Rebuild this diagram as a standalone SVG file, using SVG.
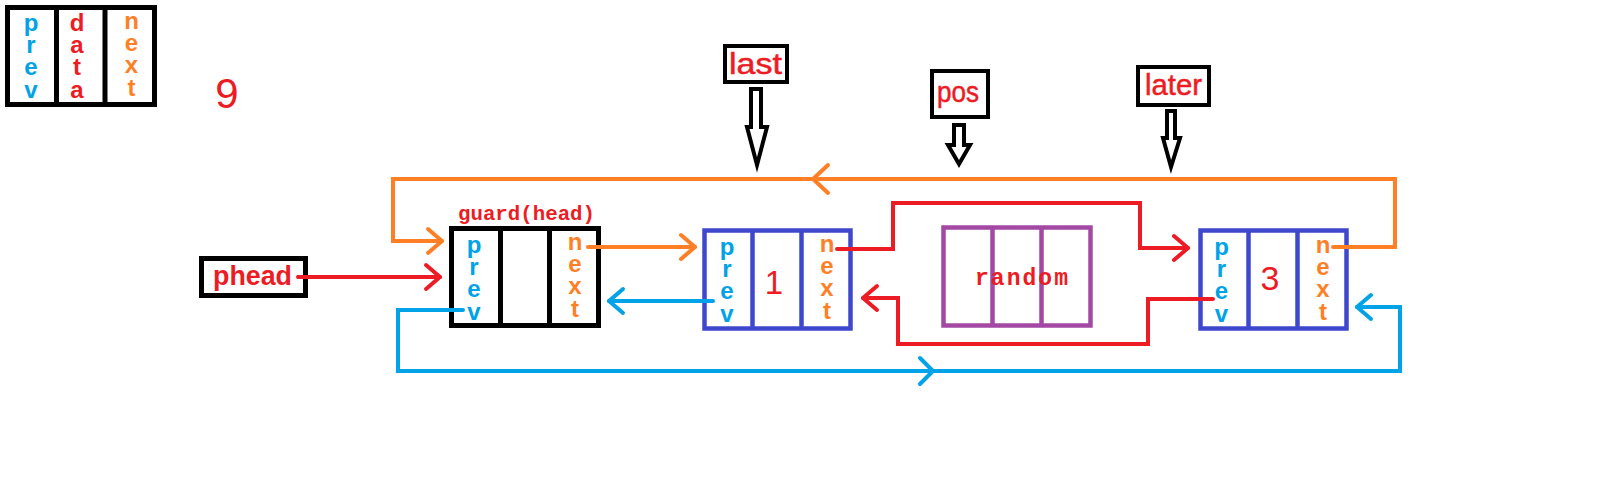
<svg xmlns="http://www.w3.org/2000/svg" width="1611" height="496" viewBox="0 0 1611 496">
<style>
  .bg{fill:#ffffff}
  .box{fill:#ffffff;stroke:#000000;stroke-width:5}
  .lbl{fill:#ffffff;stroke:#000000;stroke-width:4}
  .nb{fill:#ffffff;stroke:#3f48cc;stroke-width:4.5}
  .nbl{stroke:#3f48cc;stroke-width:4.5}
  .pb{fill:#ffffff;stroke:#a349a4;stroke-width:4.5}
  .pbl{stroke:#a349a4;stroke-width:4.5}
  .bl{stroke:#000000;stroke-width:5}
  .let{font-family:"Liberation Sans",Arial,sans-serif;font-size:24px;font-weight:bold;writing-mode:vertical-rl;text-orientation:upright;letter-spacing:-4.8px}
  .cb{fill:#00a2e8}
  .co{fill:#ff7f27}
  .cr{fill:#ed1c24}
  .ptr{font-family:"Liberation Sans",Arial,sans-serif;font-size:29px;fill:#ed1c24;stroke:#ed1c24;stroke-width:0.5}
  .mono{font-family:"Liberation Mono","DejaVu Sans Mono",monospace;font-weight:bold;fill:#ed1c24}
  .num{font-family:"Liberation Sans",Arial,sans-serif;fill:#ed1c24;text-anchor:middle}
  .hollow{fill:#ffffff;stroke:#000000;stroke-width:4;stroke-linejoin:miter}
  .ln{fill:none;stroke-width:4;stroke-linecap:round;stroke-linejoin:miter}
  .red{stroke:#ed1c24}
  .org{stroke:#ff7f27}
  .blu{stroke:#00a2e8}
</style>
<defs>
  <marker id="aR" markerUnits="userSpaceOnUse" viewBox="-20 -20 40 40" refX="0" refY="0" markerWidth="40" markerHeight="40" orient="auto">
    <path d="M-14,-12 L0,0 L-14,12" fill="none" stroke="#ed1c24" stroke-width="4" stroke-linecap="round" stroke-linejoin="round"/>
  </marker>
  <marker id="aO" markerUnits="userSpaceOnUse" viewBox="-20 -20 40 40" refX="0" refY="0" markerWidth="40" markerHeight="40" orient="auto">
    <path d="M-14,-12 L0,0 L-14,12" fill="none" stroke="#ff7f27" stroke-width="4" stroke-linecap="round" stroke-linejoin="round"/>
  </marker>
  <marker id="aB" markerUnits="userSpaceOnUse" viewBox="-20 -20 40 40" refX="0" refY="0" markerWidth="40" markerHeight="40" orient="auto">
    <path d="M-14,-12 L0,0 L-14,12" fill="none" stroke="#00a2e8" stroke-width="4" stroke-linecap="round" stroke-linejoin="round"/>
  </marker>
</defs>
<rect class="bg" x="0" y="0" width="1611" height="496"/>

<g id="legend">
  <rect class="box" x="7.5" y="7.5" width="147" height="97"/>
  <line class="bl" x1="56.5" y1="7.5" x2="56.5" y2="104.5"/>
  <line class="bl" x1="105" y1="7.5" x2="105" y2="104.5"/>
  <text class="let cb" x="31" y="9">prev</text>
  <text class="let cr" x="77" y="9">data</text>
  <text class="let co" x="131.5" y="7">next</text>
</g>

<g id="count">
  <text class="num" x="227" y="108" font-size="42">9</text>
</g>

<g id="phead">
  <rect class="box" x="201.5" y="258.5" width="104" height="37" stroke-width="5"/>
  <text x="213" y="285" font-family="Liberation Sans, Arial, sans-serif" font-size="27" font-weight="bold" fill="#ed1c24" textLength="79" lengthAdjust="spacingAndGlyphs">phead</text>
</g>

<g id="guard">
  <text class="mono" x="458" y="220" font-size="20" textLength="137" lengthAdjust="spacingAndGlyphs">guard(head)</text>
  <rect class="box" x="451.5" y="228.5" width="147" height="97"/>
  <line class="bl" x1="500.5" y1="228.5" x2="500.5" y2="325.5"/>
  <line class="bl" x1="549.5" y1="228.5" x2="549.5" y2="325.5"/>
  <text class="let cb" x="474" y="231">prev</text>
  <text class="let co" x="575" y="228">next</text>
</g>

<g id="node1">
  <rect class="nb" x="704.5" y="230.5" width="146" height="98"/>
  <line class="nbl" x1="752.5" y1="230.5" x2="752.5" y2="328.5"/>
  <line class="nbl" x1="801.5" y1="230.5" x2="801.5" y2="328.5"/>
  <text class="let cb" x="727" y="233">prev</text>
  <text class="num" x="774" y="294" font-size="33">1</text>
  <text class="let co" x="827" y="230">next</text>
</g>

<g id="random">
  <rect class="pb" x="943.5" y="227.5" width="147" height="98"/>
  <line class="pbl" x1="992.5" y1="227.5" x2="992.5" y2="325.5"/>
  <line class="pbl" x1="1041.5" y1="227.5" x2="1041.5" y2="325.5"/>
  <text class="mono" x="975" y="285" font-size="23" textLength="93" lengthAdjust="spacing">random</text>
</g>

<g id="node3">
  <rect class="nb" x="1200.5" y="230.5" width="146" height="98"/>
  <line class="nbl" x1="1248.5" y1="230.5" x2="1248.5" y2="328.5"/>
  <line class="nbl" x1="1297.5" y1="230.5" x2="1297.5" y2="328.5"/>
  <text class="let cb" x="1221.5" y="233">prev</text>
  <text class="num" x="1270" y="290" font-size="34">3</text>
  <text class="let co" x="1323" y="231">next</text>
</g>

<g id="last">
  <rect class="lbl" x="725" y="46" width="62" height="36"/>
  <text class="ptr" x="729" y="74" textLength="53" lengthAdjust="spacingAndGlyphs">last</text>
  <polygon class="hollow" points="751,89 761,89 761,127 767,127 757,165 747,127 751,127"/>
</g>

<g id="pos">
  <rect class="lbl" x="932" y="71" width="56" height="46"/>
  <text class="ptr" x="937" y="102" textLength="42" lengthAdjust="spacingAndGlyphs">pos</text>
  <polygon class="hollow" points="954,125 964,125 964,145 970,145 959,164 948,145 954,145"/>
</g>

<g id="later">
  <rect class="lbl" x="1138" y="67" width="71" height="38"/>
  <text class="ptr" x="1145" y="95" textLength="57" lengthAdjust="spacingAndGlyphs">later</text>
  <polygon class="hollow" points="1167,111 1175,111 1175,138 1180,138 1171,167 1163,138 1167,138"/>
</g>

<g id="connectors">
  <path class="ln red" d="M298,277 L440,277" marker-end="url(#aR)"/>
  <path class="ln org" d="M1333,247 L1395,247 L1395,179 L393,179 L393,241 L442,241" marker-end="url(#aO)"/>
  <path class="ln org" d="M828,165 L813,179 L828,193" stroke-linejoin="round"/>
  <path class="ln org" d="M588,247 L695,247" marker-end="url(#aO)"/>
  <path class="ln blu" d="M713,301 L609,301" marker-end="url(#aB)"/>
  <path class="ln blu" d="M463,310 L398,310 L398,371 L1400,371 L1400,307 L1357,307" marker-end="url(#aB)"/>
  <path class="ln blu" d="M920,358 L933,371 L920,384" stroke-linejoin="round"/>
  <path class="ln red" d="M837,249 L893,249 L893,203 L1140,203 L1140,248 L1188,248" marker-end="url(#aR)"/>
  <path class="ln red" d="M1213,299 L1148,299 L1148,344 L898,344 L898,298 L863,298" marker-end="url(#aR)"/>
</g>
</svg>
